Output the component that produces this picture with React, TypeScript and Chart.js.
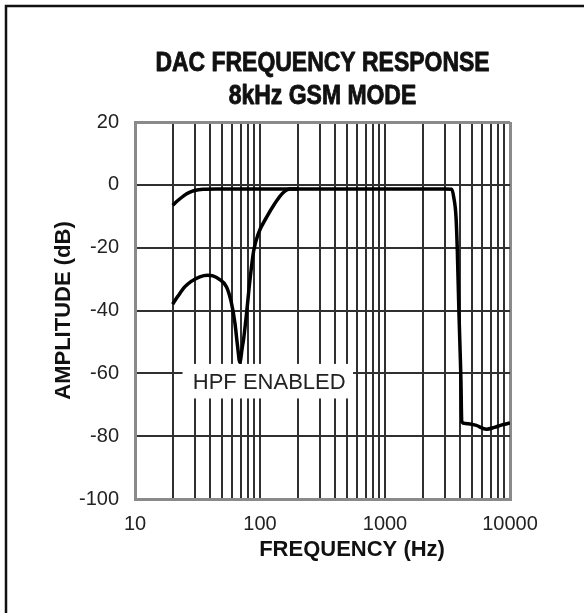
import React, { useEffect, useRef } from 'react';
import { Chart, registerables } from 'chart.js';

Chart.register(...registerables);

// ---- text ----
const titleLines = ['DAC FREQUENCY RESPONSE', '8kHz GSM MODE'];
const yAxisTitle = 'AMPLITUDE (dB)';
const xAxisTitle = 'FREQUENCY (Hz)';
const annotationText = 'HPF ENABLED';

// ---- axes ----
const freqMin = 10;
const freqMax = 10000;
const freqGridTicks = [
  10, 20, 30, 40, 50, 60, 70, 80, 90,
  100, 200, 300, 400, 500, 600, 700, 800, 900,
  1000, 2000, 3000, 4000, 5000, 6000, 7000, 8000, 9000,
  10000,
];
const freqLabelTicks = [10, 100, 1000, 10000];
const dbMin = -100;
const dbMax = 20;
const dbStep = 20;

// ---- series: full-band response (no HPF) ----
const fullBandFreq = [20, 22, 24.5, 27, 30, 35, 45, 100, 1000, 3000, 3417, 3550, 3700, 3790, 3900, 3990, 4050, 4110, 4400, 5300, 6500, 7500, 8500, 10000];
const fullBandDb = [-6.5, -5, -3.5, -2.5, -1.8, -1.4, -1.3, -1.3, -1.3, -1.3, -1.4, -4, -10.3, -21, -40, -53, -62, -75.4, -76, -76.5, -77.8, -77.2, -76.5, -75.8];

// ---- series: HPF enabled ----
const hpfFreq = [20, 22, 25, 28, 33, 38, 42, 47, 54, 59, 63, 66, 69, 72, 74, 78, 83, 89, 97, 113, 131, 153, 174, 200];
const hpfDb = [-38, -35.5, -32.5, -30.8, -29.3, -28.8, -29, -30, -32.5, -37.5, -44, -51, -56.5, -52, -49, -41, -30.5, -21, -15.5, -10.3, -6, -2.5, -1.3, -1.3];

// ---- annotation placement (data space) ----
const annotationTextFreq = 29;
const annotationTextDb = -63;
const annotationBoxFreq = [24, 555];
const annotationBoxDb = [-57, -68];
const xTitleCenterFreq = 545;

const FONT = "'Liberation Sans', Arial, Helvetica, sans-serif";

const toPoints = (xs: number[], ys: number[]) => xs.map((x, i) => ({ x, y: ys[i] }));

const framePlugin = {
  id: 'frame',
  beforeDraw(chart: any) {
    const { ctx, width, height } = chart;
    ctx.save();
    ctx.fillStyle = '#ffffff';
    ctx.fillRect(0, 0, width, height);
    ctx.strokeStyle = '#111111';
    ctx.lineWidth = 2.5;
    ctx.beginPath();
    ctx.moveTo(6, height);
    ctx.lineTo(6, 6);
    ctx.lineTo(width, 6);
    ctx.stroke();
    ctx.restore();
  },
};

const annotationPlugin = {
  id: 'hpfLabel',
  beforeDatasetsDraw(chart: any) {
    const { ctx, scales } = chart;
    const x = scales.x;
    const y = scales.y;
    const x0 = x.getPixelForValue(annotationBoxFreq[0]);
    const x1 = x.getPixelForValue(annotationBoxFreq[1]);
    const y0 = y.getPixelForValue(annotationBoxDb[0]);
    const y1 = y.getPixelForValue(annotationBoxDb[1]);
    ctx.save();
    ctx.fillStyle = '#ffffff';
    ctx.fillRect(x0, y0, x1 - x0, y1 - y0);
    ctx.fillStyle = '#222222';
    ctx.font = `22px ${FONT}`;
    ctx.textAlign = 'left';
    ctx.textBaseline = 'middle';
    ctx.fillText(annotationText, x.getPixelForValue(annotationTextFreq), y.getPixelForValue(annotationTextDb));
    ctx.restore();
  },
};

const textPlugin = {
  id: 'titles',
  afterDraw(chart: any) {
    const { ctx, scales, chartArea } = chart;
    const x = scales.x;
    ctx.save();
    // x axis title
    ctx.fillStyle = '#111111';
    ctx.font = `bold 22px ${FONT}`;
    ctx.textAlign = 'center';
    ctx.textBaseline = 'middle';
    ctx.fillText(xAxisTitle, x.getPixelForValue(xTitleCenterFreq), x.bottom - 63);
    // condensed heavy chart title
    const cx = (chartArea.left + chartArea.right) / 2;
    ctx.translate(cx, 0);
    ctx.scale(0.82, 1);
    ctx.font = `bold 28px ${FONT}`;
    ctx.strokeStyle = '#111111';
    ctx.lineWidth = 0.9;
    ctx.lineJoin = 'round';
    titleLines.forEach((line, i) => {
      const ty = chartArea.top - 59 + i * 33;
      ctx.fillText(line, 0, ty);
      ctx.strokeText(line, 0, ty);
    });
    ctx.restore();
  },
};

export default function App() {
  const canvasRef = useRef<HTMLCanvasElement | null>(null);

  useEffect(() => {
    document.body.style.margin = '0';
    const canvas = canvasRef.current;
    if (!canvas) return;

    const isEdgeX = (v: number) => v === freqMin || v === freqMax;
    const isEdgeY = (v: number) => v === dbMin || v === dbMax;

    const chart = new Chart(canvas, {
      type: 'line',
      data: {
        datasets: [
          {
            label: 'Full band',
            data: toPoints(fullBandFreq, fullBandDb),
            borderColor: '#000000',
            borderWidth: 3.5,
            pointRadius: 0,
            fill: false,
            cubicInterpolationMode: 'monotone',
          },
          {
            label: 'HPF enabled',
            data: toPoints(hpfFreq, hpfDb),
            borderColor: '#000000',
            borderWidth: 3.5,
            pointRadius: 0,
            fill: false,
            cubicInterpolationMode: 'monotone',
          },
        ],
      },
      options: {
        animation: false,
        responsive: false,
        events: [],
        layout: { padding: { left: 0, right: 74, top: 122, bottom: 0 } },
        plugins: {
          legend: { display: false },
          tooltip: { enabled: false },
          title: { display: false },
        },
        scales: {
          x: {
            type: 'logarithmic',
            position: 'bottom',
            min: freqMin,
            max: freqMax,
            afterBuildTicks: (s: any) => {
              s.ticks = freqGridTicks.map((v) => ({ value: v, major: false }));
            },
            afterFit: (s: any) => {
              s.height = 114;
              s.paddingLeft = 0;
              s.paddingRight = 0;
            },
            grid: {
              drawTicks: false,
              color: (c: any) => (c.tick && isEdgeX(c.tick.value) ? '#8a8a8a' : '#303030'),
              lineWidth: (c: any) => (c.tick && isEdgeX(c.tick.value) ? 3 : 2),
            },
            border: { display: true, color: '#8a8a8a', width: 3 },
            ticks: {
              autoSkip: false,
              maxRotation: 0,
              padding: 13,
              color: '#222222',
              font: { family: FONT, size: 20 },
              callback: (v: any) => (freqLabelTicks.includes(Number(v)) ? String(v) : ''),
            },
          },
          y: {
            type: 'linear',
            min: dbMin,
            max: dbMax,
            afterFit: (s: any) => {
              s.width = 135;
              s.paddingTop = 0;
              s.paddingBottom = 0;
            },
            grid: {
              drawTicks: false,
              color: (c: any) => (c.tick && isEdgeY(c.tick.value) ? '#8a8a8a' : '#303030'),
              lineWidth: (c: any) => (c.tick && isEdgeY(c.tick.value) ? 3 : 2),
            },
            border: { display: true, color: '#8a8a8a', width: 3 },
            ticks: {
              stepSize: dbStep,
              padding: 16,
              color: '#222222',
              font: { family: FONT, size: 20 },
              callback: (v: any) => String(v),
            },
            title: {
              display: true,
              text: yAxisTitle,
              color: '#111111',
              font: { family: FONT, size: 22, weight: 'bold', lineHeight: '22px' },
              padding: { top: 53, bottom: 0 },
            },
          },
        },
      },
      plugins: [framePlugin, annotationPlugin, textPlugin],
    } as any);

    return () => chart.destroy();
  }, []);

  return (
    <div style={{ width: 584, height: 613 }}>
      <canvas ref={canvasRef} width={584} height={613} style={{ display: 'block' }} />
    </div>
  );
}
